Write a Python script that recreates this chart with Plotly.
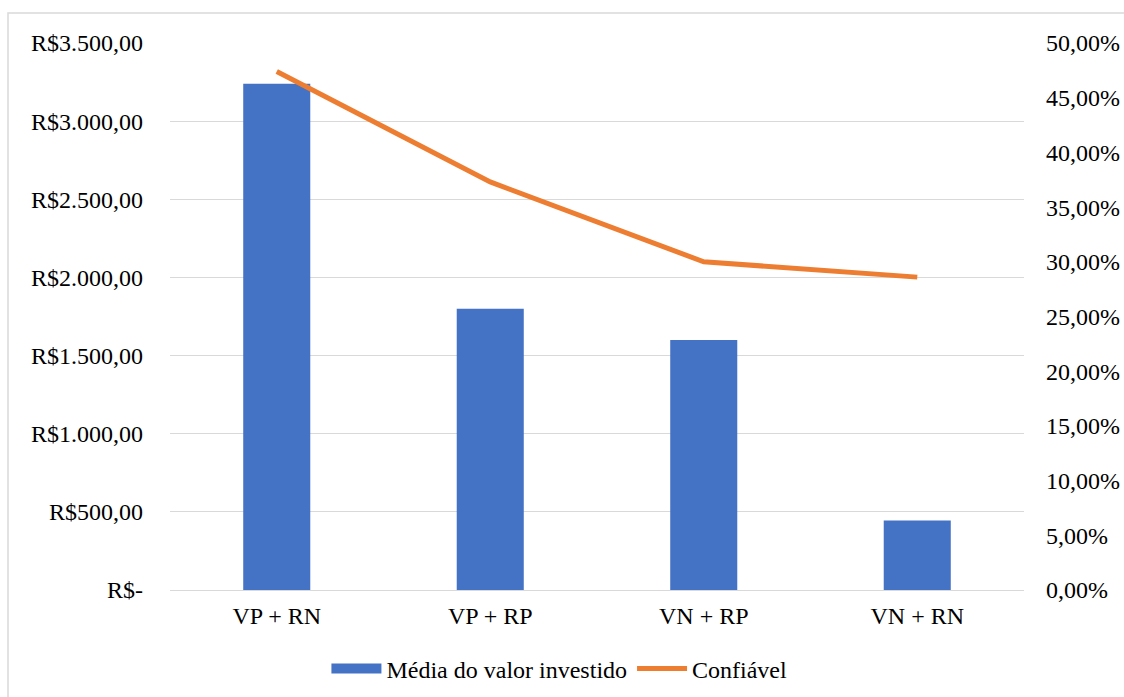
import plotly.graph_objects as go

# Categories and series values
categorias = ["VP + RN", "VP + RP", "VN + RP", "VN + RN"]
media_investida = [3240, 1800, 1600, 445]          # R$
confiavel = [47.4, 37.3, 30.0, 28.6]               # %

# Axis tick labels
ticks_rs = [0, 500, 1000, 1500, 2000, 2500, 3000, 3500]
ticks_rs_txt = ["R$-", "R$500,00", "R$1.000,00", "R$1.500,00", "R$2.000,00",
                "R$2.500,00", "R$3.000,00", "R$3.500,00"]
ticks_pct = [0, 5, 10, 15, 20, 25, 30, 35, 40, 45, 50]
ticks_pct_txt = ["0,00%", "5,00%", "10,00%", "15,00%", "20,00%", "25,00%",
                 "30,00%", "35,00%", "40,00%", "45,00%", "50,00%"]

BLUE = "#4472C4"
ORANGE = "#ED7D31"
GRID = "#D9D9D9"
FONT = "Liberation Serif"
FS = 24

fig = go.Figure()
fig.add_trace(go.Bar(
    x=categorias, y=media_investida, name="Média do valor investido",
    marker=dict(color=BLUE, line=dict(width=0)), yaxis="y", showlegend=False,
))
# legend key for the bars, drawn as a wide block
fig.add_trace(go.Scatter(
    x=[None], y=[None], name="Média do valor investido", mode="lines",
    line=dict(color=BLUE, width=10), yaxis="y",
))
fig.add_trace(go.Scatter(
    x=categorias, y=confiavel, name="Confiável", mode="lines",
    line=dict(color=ORANGE, width=5), yaxis="y2",
))

W, H = 1124, 697
L, R, T, B = 170, 100, 43, 107
pw, ph = W - L - R, H - T - B

fig.update_layout(
    width=W, height=H,
    margin=dict(l=L, r=R, t=T, b=B, autoexpand=False),
    paper_bgcolor="white", plot_bgcolor="white",
    font=dict(family=FONT, size=FS, color="black"),
    bargap=0.686,
    showlegend=True,
    legend=dict(orientation="h", x=0.456, xanchor="center",
                y=(590 - 669) / ph, yanchor="middle",
                font=dict(family=FONT, size=FS), itemwidth=50,
                traceorder="normal"),
    hovermode=False,
    xaxis=dict(showgrid=False, showline=True, linecolor=GRID, linewidth=1,
               ticks="", ticklabelstandoff=4, zeroline=False, automargin=False,
               tickfont=dict(family=FONT, size=FS)),
    yaxis=dict(range=[0, 3500], tickvals=ticks_rs, ticktext=ticks_rs_txt,
               showgrid=True, gridcolor=GRID, gridwidth=1, zeroline=False,
               showline=False, ticks="", ticklabelstandoff=26, automargin=False,
               tickfont=dict(family=FONT, size=FS)),
    yaxis2=dict(range=[0, 50], tickvals=ticks_pct, ticktext=ticks_pct_txt,
                overlaying="y", side="right", showgrid=False, zeroline=False,
                showline=False, ticks="", ticklabelstandoff=21, automargin=False,
                tickfont=dict(family=FONT, size=FS)),
    shapes=[dict(type="rect", xref="paper", yref="paper",
                 x0=(8 - L) / pw, x1=(W + 5 - L) / pw,
                 y0=(590 - (H + 5)) / ph, y1=(590 - 13) / ph,
                 line=dict(color=GRID, width=1.5), fillcolor="rgba(0,0,0,0)",
                 layer="below")],
)

fig.write_html("out.html")
